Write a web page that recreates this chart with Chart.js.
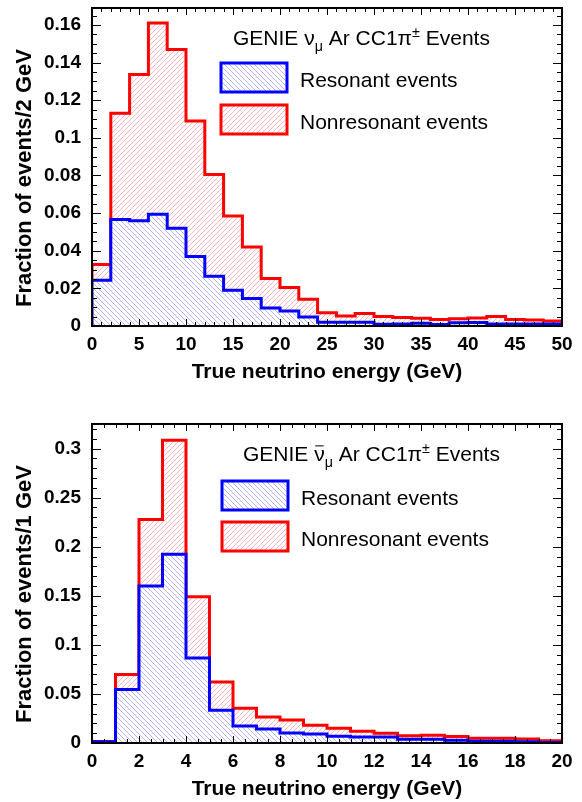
<!DOCTYPE html>
<html>
<head>
<meta charset="utf-8">
<script src="https://cdn.jsdelivr.net/npm/chart.js@4.4.0/dist/chart.umd.min.js"></script>
<style>
  body { margin: 0; background: #fff; width: 582px; height: 802px; position: relative; overflow: hidden; }
  canvas { position: absolute; left: 0; }
  #nuChart { top: 0; }
  #nubarChart { top: 400px; }
</style>
</head>
<body>
<canvas id="nuChart" width="582" height="400"></canvas>
<canvas id="nubarChart" width="582" height="402"></canvas>
<script>
// neutrino sample, 2 GeV bins from 0 to 50 GeV
var nuBinWidth = 2;
var nuResonant = [0.0243, 0.0566, 0.0559, 0.0594, 0.052, 0.0369, 0.0264, 0.019, 0.0146, 0.0096,
                  0.008, 0.0048, 0.002, 0.002, 0.002, 0.0009, 0.001, 0.0015, 0.0008, 0.0017,
                  0.0018, 0.0011, 0.001, 0.001, 0.001];
var nuNonresonant = [0.0327, 0.113, 0.1337, 0.161, 0.147, 0.109, 0.0805, 0.0585, 0.042, 0.0252,
                     0.0204, 0.0142, 0.0071, 0.0053, 0.0066, 0.005, 0.0045, 0.0041, 0.0034, 0.0039,
                     0.0043, 0.005, 0.0035, 0.0032, 0.0027];

// antineutrino sample, 1 GeV bins from 0 to 20 GeV
var nubarBinWidth = 1;
var nubarResonant = [0.0012, 0.0544, 0.16, 0.1923, 0.0866, 0.0333, 0.0173, 0.0143, 0.0102, 0.0092,
                     0.0068, 0.0061, 0.0061, 0.0038, 0.0038, 0.0027, 0.0017, 0.0017, 0.0014, 0.0005];
var nubarNonresonant = [0.0015, 0.0697, 0.2277, 0.3085, 0.149, 0.0622, 0.0354, 0.0265, 0.0235, 0.018,
                        0.015, 0.0119, 0.0099, 0.0075, 0.0078, 0.0065, 0.0048, 0.0048, 0.0041, 0.0024];

var seriesNames = ['Resonant events', 'Nonresonant events'];
var xTitle = 'True neutrino energy (GeV)';
var nuYTitle = 'Fraction of events/2 GeV';
var nubarYTitle = 'Fraction of events/1 GeV';

var FONT = '"Liberation Sans", Arial, Helvetica, sans-serif';
Chart.defaults.font.family = FONT;
Chart.defaults.color = '#000';

// diagonal hatch fill on a white tile
function hatch(color, up) {
  var s = 5;
  var c = document.createElement('canvas');
  c.width = c.height = s;
  var g = c.getContext('2d');
  g.fillStyle = '#fff';
  g.fillRect(0, 0, s, s);
  g.strokeStyle = color;
  g.lineWidth = 1;
  g.beginPath();
  if (up) {
    g.moveTo(-1, s + 1); g.lineTo(s + 1, -1);
    g.moveTo(-2, 2); g.lineTo(2, -2);
    g.moveTo(s - 2, s + 2); g.lineTo(s + 2, s - 2);
  } else {
    g.moveTo(-1, -1); g.lineTo(s + 1, s + 1);
    g.moveTo(-2, s - 2); g.lineTo(2, s + 2);
    g.moveTo(s - 2, -2); g.lineTo(s + 2, 2);
  }
  g.stroke();
  return g.createPattern(c, 'repeat');
}

var blueHatch = hatch('rgba(90,90,255,0.45)', false);
var redHatch = hatch('rgba(255,80,80,0.42)', true);

// histogram outline: one point per bin left edge, closed down to zero at both ends
function stepPoints(values, width) {
  var pts = [{ x: 0, y: 0 }];
  values.forEach(function (v, i) { pts.push({ x: i * width, y: v }); });
  var end = values.length * width;
  pts.push({ x: end, y: values[values.length - 1] });
  pts.push({ x: end, y: 0 });
  return pts;
}

// ROOT-style frame with inward ticks on all four sides
var frameTicks = {
  id: 'frameTicks',
  afterDatasetsDraw: function (chart, args, o) {
    var a = chart.chartArea, ctx = chart.ctx;
    var xs = chart.scales.x, ys = chart.scales.y;
    function major(v, step) { var r = v / step; return Math.abs(r - Math.round(r)) < 1e-6; }
    ctx.save();
    ctx.strokeStyle = '#000';
    ctx.lineWidth = 1;
    ctx.beginPath();
    var n = Math.round((xs.max - xs.min) / o.xMinor);
    for (var i = 0; i <= n; i++) {
      var v = xs.min + i * o.xMinor;
      var len = major(v, o.xMajor) ? 7 : 4;
      var px = Math.round(xs.getPixelForValue(v)) + 0.5;
      ctx.moveTo(px, a.bottom); ctx.lineTo(px, a.bottom - len);
      ctx.moveTo(px, a.top); ctx.lineTo(px, a.top + len);
    }
    var m = Math.floor((ys.max - ys.min) / o.yMinor + 1e-6);
    for (var j = 0; j <= m; j++) {
      var w = ys.min + j * o.yMinor;
      var l2 = major(w, o.yMajor) ? 9 : 5;
      var py = Math.round(ys.getPixelForValue(w)) + 0.5;
      ctx.moveTo(a.left, py); ctx.lineTo(a.left + l2, py);
      ctx.moveTo(a.right, py); ctx.lineTo(a.right - l2, py);
    }
    ctx.stroke();
    ctx.lineWidth = 2;
    ctx.strokeRect(a.left, a.top, a.right - a.left, a.bottom - a.top);
    ctx.restore();
  }
};

// text made of runs, with sub/superscripts and an overbar
function drawRich(ctx, x, y, parts, size) {
  parts.forEach(function (p) {
    var fs = p.sub || p.sup ? size * 0.68 : size;
    var dy = p.sub ? size * 0.3 : (p.sup ? -size * 0.38 : 0);
    ctx.font = fs + 'px ' + FONT;
    var w = ctx.measureText(p.t).width;
    ctx.fillText(p.t, x, y + dy);
    if (p.bar) {
      ctx.save();
      ctx.lineWidth = 1;
      ctx.beginPath();
      ctx.moveTo(x + 1, y - size * 0.72);
      ctx.lineTo(x + w - 1, y - size * 0.72);
      ctx.stroke();
      ctx.restore();
    }
    x += w;
  });
}

// in-frame legend block plus the rotated y title
var histLegend = {
  id: 'histLegend',
  afterDraw: function (chart, args, o) {
    var ctx = chart.ctx;
    ctx.save();
    ctx.fillStyle = '#000';
    ctx.textAlign = 'left';
    ctx.textBaseline = 'alphabetic';
    drawRich(ctx, o.titleX, o.titleY, o.title, 21);

    ctx.lineWidth = 3;
    o.entries.forEach(function (e, k) {
      var by = o.boxY + k * o.rowStep;
      ctx.fillStyle = e.fill;
      ctx.fillRect(o.boxX, by, 66, 29);
      ctx.strokeStyle = e.line;
      ctx.strokeRect(o.boxX, by, 66, 29);
      ctx.fillStyle = '#000';
      ctx.font = '21px ' + FONT;
      ctx.fillText(e.label, o.textX, by + 23.5);
    });

    ctx.translate(25, o.yTitleCenter);
    ctx.rotate(-Math.PI / 2);
    ctx.textAlign = 'center';
    ctx.textBaseline = 'middle';
    ctx.font = 'bold 22px ' + FONT;
    ctx.fillText(o.yTitle, 0, 0);
    ctx.restore();
  }
};

function histChart(id, cfg) {
  var datasets = [
    { label: seriesNames[0], data: stepPoints(cfg.resonant, cfg.binWidth), borderColor: '#0000ff',
      backgroundColor: blueHatch },
    { label: seriesNames[1], data: stepPoints(cfg.nonresonant, cfg.binWidth), borderColor: '#ff0000',
      backgroundColor: redHatch }
  ];
  datasets.forEach(function (d) {
    d.stepped = 'before';
    d.fill = 'origin';
    d.borderWidth = 3;
    d.pointRadius = 0;
    d.borderJoinStyle = 'miter';
  });

  return new Chart(document.getElementById(id), {
    type: 'line',
    data: { datasets: datasets },
    plugins: [frameTicks, histLegend],
    options: {
      responsive: false,
      animation: false,
      devicePixelRatio: 1,
      layout: { padding: { top: cfg.top, right: 20, left: 0, bottom: 0 } },
      plugins: {
        legend: { display: false },
        tooltip: { enabled: false },
        frameTicks: cfg.ticks,
        histLegend: cfg.legend
      },
      scales: {
        x: {
          type: 'linear', min: 0, max: cfg.xMax,
          grid: { display: false },
          border: { display: false },
          ticks: { stepSize: cfg.ticks.xMajor, padding: -1, maxRotation: 0,
                   font: { size: 19, weight: 'bold' } },
          title: { display: true, text: xTitle, font: { size: 21, weight: 'bold' },
                   padding: { top: 0, bottom: cfg.xTitlePad } },
          afterFit: function (s) { s.height = cfg.xAxisHeight; s.paddingLeft = 0; s.paddingRight = 0; }
        },
        y: {
          min: 0, max: cfg.yMax,
          grid: { display: false },
          border: { display: false },
          ticks: { stepSize: cfg.ticks.yMajor, padding: 3, includeBounds: false,
                   font: { size: 19, weight: 'bold' },
                   callback: function (v) { return String(+v.toFixed(4)); } },
          afterFit: function (s) { s.width = 92; s.paddingTop = 0; s.paddingBottom = 0; }
        }
      }
    }
  });
}

histChart('nuChart', {
  binWidth: nuBinWidth, resonant: nuResonant, nonresonant: nuNonresonant,
  xMax: 50, yMax: 0.169, top: 8, xAxisHeight: 74, xTitlePad: 15,
  ticks: { xMajor: 5, xMinor: 1, yMajor: 0.02, yMinor: 0.005 },
  legend: {
    titleX: 233, titleY: 45,
    title: [{ t: 'GENIE \u03bd' }, { t: '\u03bc', sub: true }, { t: ' Ar CC1\u03c0' },
            { t: '\u00b1', sup: true }, { t: ' Events' }],
    boxX: 221, boxY: 63, rowStep: 42, textX: 300,
    entries: [{ label: seriesNames[0], fill: blueHatch, line: '#0000ff' },
              { label: seriesNames[1], fill: redHatch, line: '#ff0000' }],
    yTitle: nuYTitle, yTitleCenter: 178
  }
});

histChart('nubarChart', {
  binWidth: nubarBinWidth, resonant: nubarResonant, nonresonant: nubarNonresonant,
  xMax: 20, yMax: 0.325, top: 24, xAxisHeight: 59, xTitlePad: 0,
  ticks: { xMajor: 2, xMinor: 0.5, yMajor: 0.05, yMinor: 0.01 },
  legend: {
    titleX: 243, titleY: 61,
    title: [{ t: 'GENIE ' }, { t: '\u03bd', bar: true }, { t: '\u03bc', sub: true }, { t: ' Ar CC1\u03c0' },
            { t: '\u00b1', sup: true }, { t: ' Events' }],
    boxX: 222, boxY: 81, rowStep: 41, textX: 301,
    entries: [{ label: seriesNames[0], fill: blueHatch, line: '#0000ff' },
              { label: seriesNames[1], fill: redHatch, line: '#ff0000' }],
    yTitle: nubarYTitle, yTitleCenter: 194
  }
});
</script>
</body>
</html>
